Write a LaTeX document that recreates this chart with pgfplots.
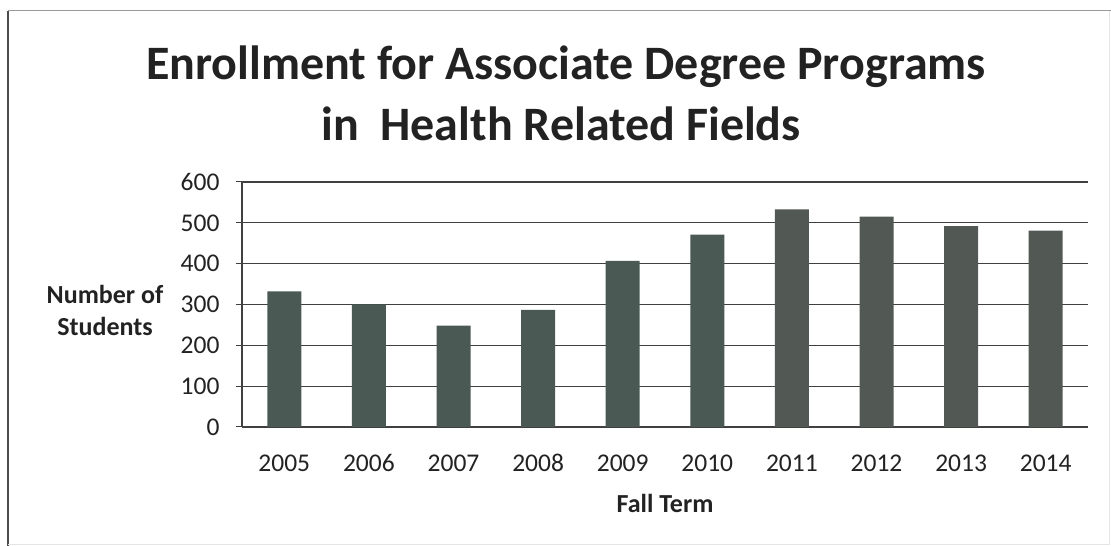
\documentclass[border=0pt]{standalone}
\usepackage{fontspec}
\setmainfont{Carlito}
\usepackage{pgfplots}
\pgfplotsset{compat=1.18}
\definecolor{barA}{HTML}{4A5954}
\definecolor{barB}{HTML}{525853}
\definecolor{gridc}{HTML}{404040}
\definecolor{txt}{HTML}{222222}
\begin{document}
\begin{tikzpicture}[x=1pt,y=1pt]
\path[use as bounding box] (0,0) rectangle (1111,546);
\draw[line width=1.6pt, color=black!70] (8,0) -- (8,535);
\draw[line width=1pt, color=black!40] (8,535) -- (1111,535);
\draw[line width=0.8pt, color=black!10] (1109.5,535) -- (1109.5,2) -- (8,2);
\node[font=\fontsize{48}{56}\selectfont\bfseries, text=txt] at (566,479) {Enrollment for Associate Degree Programs};
\node[font=\fontsize{48}{56}\selectfont\bfseries, text=txt] at (561,422) {in\ \ Health Related Fields};
\node[align=center, font=\fontsize{26}{32}\selectfont\bfseries, text=txt] at (105,236) {Number of\\Students};
\node[font=\fontsize{26}{32}\selectfont\bfseries, text=txt] at (665,43) {Fall Term};
\begin{axis}[
  at={(242pt,119pt)}, anchor=south west,
  scale only axis, width=846pt, height=245pt,
  ymin=0, ymax=600, ytick={0,100,...,600},
  xmin=-0.5, xmax=9.5,
  xtick={0,...,9},
  xticklabels={2005,2006,2007,2008,2009,2010,2011,2012,2013,2014},
  major x tick style={draw=none},
  extra x ticks={-0.5,0.5,...,9.5},
  extra x tick labels={},
  extra x tick style={tick align=outside, major tick length=8pt, tick style={draw=gridc, line width=1pt}},
  ytick align=center, major tick length=12pt,
  ytick style={draw=gridc, line width=1pt},
  axis x line*=bottom, axis y line*=left,
  axis line style={-, draw=gridc, line width=1.3pt},
  ymajorgrids, grid style={draw=gridc, line width=1.3pt},
  /pgf/number format/assume math mode=true,
  tick label style={font=\fontsize{25.5}{30}\selectfont, text=txt},
  yticklabel style={xshift=-13pt},
  xticklabel style={yshift=-12pt},
  ybar, bar width=34pt, bar shift=0pt,
  clip=false,
]
\addplot[fill=barA, draw=none] coordinates {(0,332) (1,300) (2,248) (3,287) (4,407) (5,471)};
\addplot[fill=barB, draw=none] coordinates {(6,533) (7,515) (8,492) (9,481)};
\end{axis}
\end{tikzpicture}
\end{document}
